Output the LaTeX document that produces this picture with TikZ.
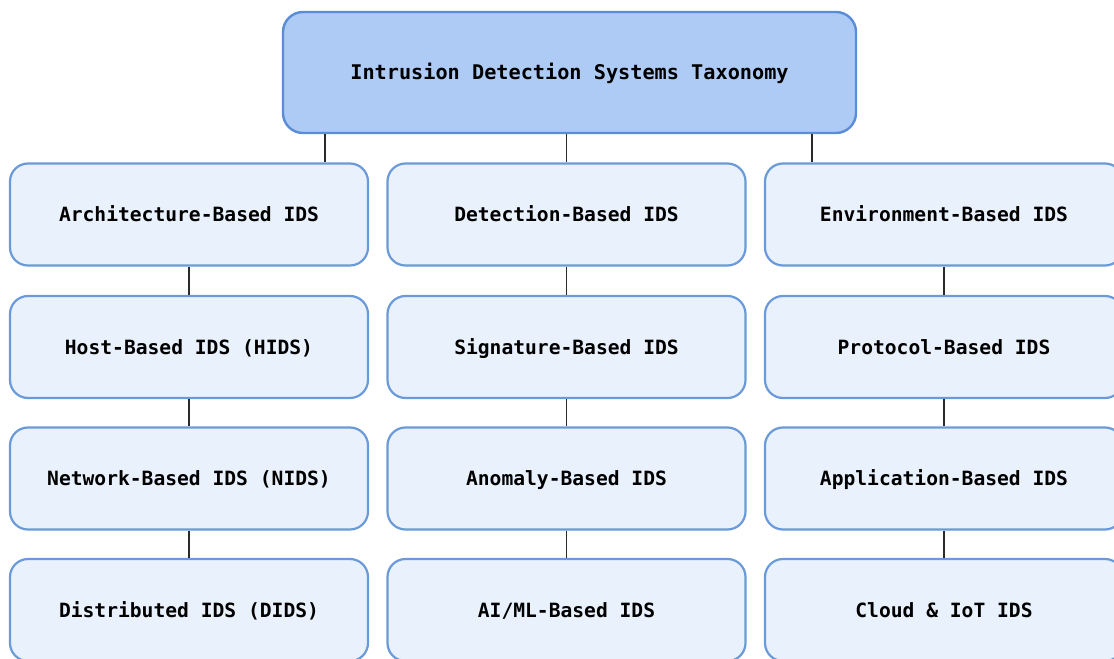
\documentclass[tikz,border=0pt]{standalone}
\usepackage{fontspec}
\newfontfamily\boxfont{DejaVu Sans Mono}
\definecolor{rootfill}{HTML}{AECBF5}
\definecolor{rootline}{HTML}{5A8DD6}
\definecolor{leaffill}{HTML}{E9F1FD}
\definecolor{leafline}{HTML}{6A9AD9}
\definecolor{linkgray}{HTML}{2A2A2A}
\tikzset{
  rootbox/.style={draw=rootline, fill=rootfill, line width=2.4bp, rounded corners=20bp,
    minimum width=573bp, minimum height=121bp, inner sep=0pt,
    text height=14.6bp, text depth=0bp,
    font=\boxfont\bfseries\fontsize{20.3}{24}\selectfont},
  leafbox/.style={draw=leafline, fill=leaffill, line width=2.2bp, rounded corners=18bp,
    minimum width=358bp, minimum height=102bp, inner sep=0pt,
    text height=14.2bp, text depth=0bp,
    font=\boxfont\bfseries\fontsize{19.7}{24}\selectfont},
  link/.style={draw=linkgray, line width=1.6bp}
}
\begin{document}
\begin{tikzpicture}[x=1bp,y=-1bp]
\useasboundingbox (0,0) rectangle (1114,659);
\begin{scope}
\clip (0,0) rectangle (1114,659);
\node[rootbox] (root) at (569.5,72.5) {Intrusion Detection Systems Taxonomy};

% column 1
\node[leafbox] (a1) at (189,214.5) {Architecture-Based IDS};
\node[leafbox] (a2) at (189,347) {Host-Based IDS (HIDS)};
\node[leafbox] (a3) at (189,478.5) {Network-Based IDS (NIDS)};
\node[leafbox] (a4) at (189,610) {Distributed IDS (DIDS)};
% column 2
\node[leafbox] (b1) at (566.5,214.5) {Detection-Based IDS};
\node[leafbox] (b2) at (566.5,347) {Signature-Based IDS};
\node[leafbox] (b3) at (566.5,478.5) {Anomaly-Based IDS};
\node[leafbox] (b4) at (566.5,610) {AI/ML-Based IDS};
% column 3
\node[leafbox] (c1) at (944,214.5) {Environment-Based IDS};
\node[leafbox] (c2) at (944,347) {Protocol-Based IDS};
\node[leafbox] (c3) at (944,478.5) {Application-Based IDS};
\node[leafbox] (c4) at (944,610) {Cloud \& IoT IDS};

% links from the root to the category boxes
\draw[link] ([xshift=43bp]root.south west) -- ([xshift=43bp]root.south west |- a1.north);
\draw[link] (root.south -| b1.north) -- (b1.north);
\draw[link] ([xshift=-45bp]root.south east) -- ([xshift=-45bp]root.south east |- c1.north);

% links inside each column
\foreach \c in {a,b,c}{
  \draw[link] (\c1.south) -- (\c2.north);
  \draw[link] (\c2.south) -- (\c3.north);
  \draw[link] (\c3.south) -- (\c4.north);
}
\end{scope}
\end{tikzpicture}
\end{document}
